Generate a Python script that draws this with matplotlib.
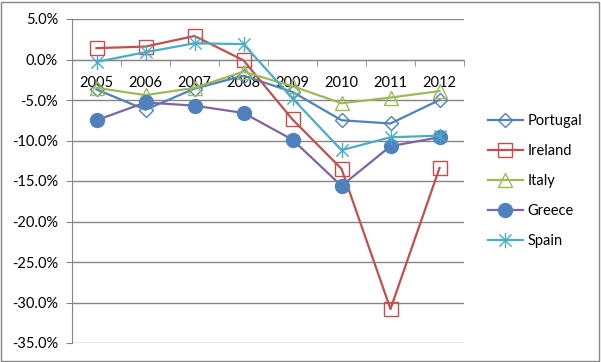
import matplotlib.pyplot as plt
import numpy as np
from matplotlib.path import Path
from matplotlib.patches import Rectangle
from matplotlib.ticker import FuncFormatter, FixedLocator

plt.rcParams['font.family'] = ['Lato', 'DejaVu Sans']

years = ['2005', '2006', '2007', '2008', '2009', '2010', '2011', '2012']
portugal = [-3.7, -6.2, -3.6, -2.0, -4.0, -7.5, -7.9, -5.0]
ireland = [1.4, 1.6, 2.9, -0.1, -7.4, -13.5, -30.8, -13.4]
italy = [-3.5, -4.4, -3.5, -1.5, -3.3, -5.4, -4.7, -3.9]
greece = [-7.5, -5.3, -5.7, -6.6, -9.9, -15.6, -10.7, -9.6]
spain = [-0.3, 0.9, 2.0, 1.9, -4.8, -11.2, -9.6, -9.4]

# excel style asterisk marker
star = Path([(0, -1), (0, 1), (-0.8, -0.8), (0.8, 0.8), (-0.8, 0.8), (0.8, -0.8)],
            [Path.MOVETO, Path.LINETO] * 3)

fig = plt.figure(figsize=(6.01, 3.62), dpi=100)
ax = fig.add_axes([72/601, 1-343/362, (464-72)/601, (343-19)/362])

x = np.arange(len(years))
lw = 1.6
ax.plot(x, portugal, color='#4F81BD', lw=lw, marker='D', ms=7.5,
        mfc='none', mec='#4F81BD', mew=1, label='Portugal', zorder=3)
ax.plot(x, ireland, color='#C0504D', lw=lw, marker='s', ms=10,
        mfc='none', mec='#C0504D', mew=1, label='Ireland', zorder=4)
ax.plot(x, italy, color='#9BBB59', lw=lw, marker='^', ms=10,
        mfc='none', mec='#9BBB59', mew=1, label='Italy', zorder=5)
ax.plot(x, greece, color='#8064A2', lw=lw, marker='o', ms=10,
        mfc='#4F81BD', mec='#4F81BD', label='Greece', zorder=6)
ax.plot(x, spain, color='#4BACC6', lw=lw, marker=star, ms=11,
        mfc='none', mec='#4BACC6', mew=1, label='Spain', zorder=7)

ax.set_xlim(-0.5, len(years) - 0.5)
ax.set_ylim(-35, 5)
ax.set_yticks(np.arange(-35, 5.1, 5))
ax.yaxis.set_major_formatter(FuncFormatter(lambda v, p: '%.1f%%' % v))
ax.grid(axis='y', color='#868686', lw=1)
ax.set_axisbelow(True)

ax.set_xticks(x)
ax.set_xticklabels(years)
ax.xaxis.set_minor_locator(FixedLocator(np.arange(-0.5, len(years), 1)))
ax.spines['bottom'].set_position(('data', 0))
for s in ['top', 'right']:
    ax.spines[s].set_visible(False)
ax.spines['left'].set_color('#868686')
ax.spines['bottom'].set_color('#868686')
ax.tick_params(axis='x', which='major', length=0, pad=12, labelsize=10.5)
ax.tick_params(axis='x', which='minor', length=4, color='#868686', direction='out')
ax.tick_params(axis='y', length=4, color='#868686', pad=6, labelsize=10.5)

fig.legend(loc='upper left', bbox_to_anchor=(488/601, 1-114/362), frameon=False,
           fontsize=10.5, handlelength=2.4, handletextpad=0.3, labelspacing=1.1,
           borderpad=0, borderaxespad=0)

fig.patches.append(Rectangle((1/601, 1/362), 598/601, 359/362, transform=fig.transFigure,
                             fill=False, edgecolor='#868686', lw=1))

plt.savefig('out.png', dpi=100)
